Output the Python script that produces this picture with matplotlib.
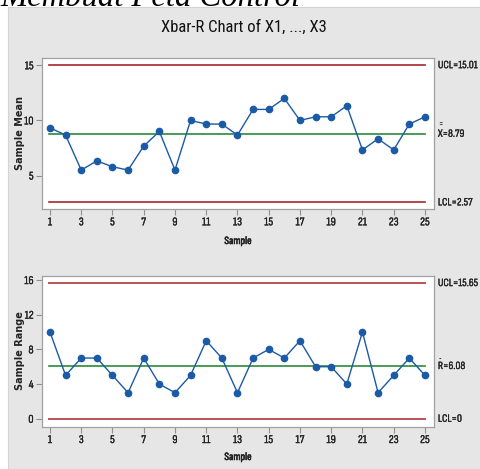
import numpy as np
import matplotlib
matplotlib.use('Agg')
import matplotlib.pyplot as plt
from matplotlib.patches import Rectangle
import matplotlib.patheffects as pe

plt.rcParams['font.family'] = ['Sofia Sans Condensed', 'DejaVu Sans']

# data
samples = np.arange(1, 26)
xbar = [9.33, 8.67, 5.5, 6.33, 5.8, 5.5, 7.67, 9.0, 5.5, 10.0, 9.67, 9.67, 8.67,
        11.0, 11.0, 12.0, 10.0, 10.33, 10.33, 11.33, 7.33, 8.33, 7.33, 9.67, 10.33]
rng = [10, 5, 7, 7, 5, 3, 7, 4, 3, 5, 9, 7, 3, 7, 8, 7, 9, 6, 6, 4, 10, 3, 5, 7, 5]
xbar_lim = (2.57, 8.79, 15.01)   # LCL, center, UCL
r_lim = (0, 6.08, 15.65)
xticks = list(range(1, 26, 2))

blue = '#1a5aa6'
red = '#a8282c'
green = '#2b8a3a'
gray_bg = '#e6e6e6'
txt = '#222222'
thick = [pe.withStroke(linewidth=0.2, foreground=txt)]   # font is a bit thin, fatten it

fig = plt.figure(figsize=(4.81, 4.69), dpi=100, facecolor='white')
fig.patches.append(Rectangle((8/481, 0), 1, (469-7.5)/469, transform=fig.transFigure,
                             facecolor=gray_bg, edgecolor='#d4d4d4', lw=0.8, zorder=-10))

# page heading, cut off by the top edge
fig.text(0.0, 1 - 6/469, 'Membuat Peta Control', family='Liberation Serif', style='italic',
         fontsize=23.5, ha='left', va='baseline', color='black')

fig.text(244/481, 1 - 27/469, 'Xbar-R Chart of X1, ..., X3', family='Roboto Condensed',
         fontsize=12, ha='center', va='center', color='#111111')

ax1 = fig.add_axes([42/481, (469-209)/469, 392/481, 151/469])
ax2 = fig.add_axes([42/481, (469-426.7)/469, 392/481, 151/469])


def style(ax, yticks, ylim):
    ax.set_facecolor('white')
    for s in ax.spines.values():
        s.set_color('#a0a0a0')
        s.set_linewidth(0.9)
    ax.set_xlim(0.49, 25.58)
    ax.set_ylim(*ylim)
    ax.set_xticks(xticks)
    ax.set_yticks(yticks)
    ax.tick_params(direction='out', length=4, width=0.8, color='#909090',
                   labelsize=8.5, labelcolor=txt, pad=2)
    for t in ax.get_xticklabels() + ax.get_yticklabels():
        t.set_path_effects(thick)


ax1.plot([0.97, 25.03], [xbar_lim[2]] * 2, color=red, lw=1.2)
ax1.plot([0.97, 25.03], [xbar_lim[0]] * 2, color=red, lw=1.2)
ax1.plot([0.97, 25.03], [xbar_lim[1]] * 2, color=green, lw=1.2)
ax1.plot(samples, xbar, '-o', color=blue, lw=1, ms=4.5)
style(ax1, [5, 10, 15], (1.97, 15.66))

ax2.plot([0.97, 25.03], [r_lim[2]] * 2, color=red, lw=1.4, alpha=0.8)
ax2.plot([0.97, 25.03], [r_lim[0]] * 2, color=red, lw=1.4, alpha=0.8)
ax2.plot([0.97, 25.03], [r_lim[1]] * 2, color=green, lw=1.2)
ax2.plot(samples, rng, '-o', color=blue, lw=1, ms=4.5)
style(ax2, [0, 4, 8, 12, 16], (-0.92, 16.5))

lab = dict(fontsize=8, ha='left', va='center', color=txt, path_effects=thick)
tr1 = ax1.get_yaxis_transform()
ax1.text(1.01, xbar_lim[2], 'UCL=15.01', transform=tr1, **lab)
ax1.text(1.01, xbar_lim[1], 'X=8.79', transform=tr1, **lab)
ax1.text(1.011, xbar_lim[1] + 0.8, '=', transform=tr1, fontsize=6.5, ha='left', va='center', color=txt)
ax1.text(1.01, xbar_lim[0], 'LCL=2.57', transform=tr1, **lab)

tr2 = ax2.get_yaxis_transform()
ax2.text(1.01, r_lim[2], 'UCL=15.65', transform=tr2, **lab)
ax2.text(1.01, r_lim[1], 'R=6.08', transform=tr2, **lab)
ax2.text(1.011, r_lim[1] + 0.3, '\u00af', transform=tr2, fontsize=8, ha='left', va='center', color=txt)
ax2.text(1.01, r_lim[0], 'LCL=0', transform=tr2, **lab)

xl = dict(fontsize=8, ha='center', va='center', color=txt,
          path_effects=[pe.withStroke(linewidth=0.4, foreground=txt)])
fig.text(238/481, 1 - 241/469, 'Sample', **xl)
fig.text(238/481, 1 - 457/469, 'Sample', **xl)
fig.text(20/481, 1 - 133/469, 'Sample Mean', family='DejaVu Sans', fontsize=7, weight='bold',
         rotation=90, ha='center', va='center', color=txt)
fig.text(20/481, 1 - 351/469, 'Sample Range', family='DejaVu Sans', fontsize=7, weight='bold',
         rotation=90, ha='center', va='center', color=txt)

fig.savefig('out.png', dpi=100, facecolor='white')
